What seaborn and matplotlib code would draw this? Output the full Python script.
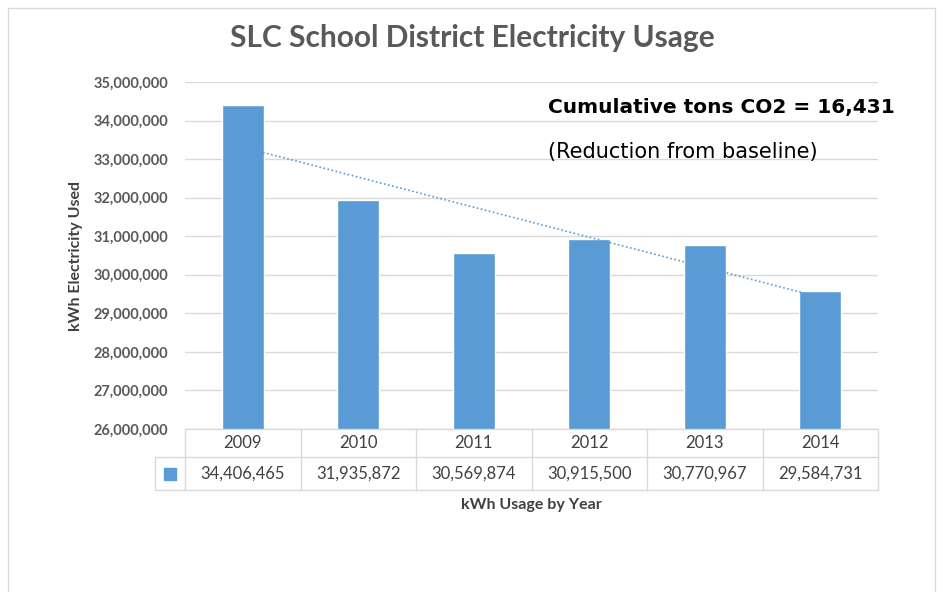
import numpy as np
import pandas as pd
import seaborn as sns
from matplotlib import pyplot as plt
from matplotlib.lines import Line2D
from matplotlib.ticker import FuncFormatter, MultipleLocator

# data
years = ["2009", "2010", "2011", "2012", "2013", "2014"]
kwh = [34406465, 31935872, 30569874, 30915500, 30770967, 29584731]
note_main = "Cumulative tons CO2 = 16,431"
note_sub = "(Reduction from baseline)"

BAR = "#5B9BD5"
GRID = "#D9D9D9"
TXT = "#595959"

sns.set_theme(style="white")
plt.rcParams["font.family"] = ["Lato", "DejaVu Sans"]

df = pd.DataFrame({"year": years, "kwh": kwh})

fig = plt.figure(figsize=(9.45, 5.92), dpi=100)
ax = fig.add_axes([0.1958, 0.2753, 0.7333, 0.5862])

sns.barplot(data=df, x="year", y="kwh", color=BAR, width=0.36,
            saturation=1, ax=ax, zorder=2)

# linear trendline like Excel
xs = np.arange(len(kwh))
slope, icpt = np.polyfit(xs, kwh, 1)
ax.plot(xs, slope * xs + icpt, ls=(0, (1, 1.5)), color=BAR, lw=1.2, zorder=3)

ax.set_ylim(26_000_000, 35_000_000)
ax.set_xlim(-0.5, len(years) - 0.5)
ax.yaxis.set_major_locator(MultipleLocator(1_000_000))
ax.yaxis.set_major_formatter(FuncFormatter(lambda v, p: f"{int(v):,}"))
ax.grid(axis="y", color=GRID, lw=1, zorder=0)
for s in ax.spines.values():
    s.set_visible(False)
ax.tick_params(axis="y", length=0, pad=12, labelsize=10.5, labelcolor=TXT)
for lab in ax.get_yticklabels():
    lab.set_fontweight("bold")
ax.set_xticks([])
ax.set_xlabel("")
ax.set_ylabel("kWh Electricity Used", fontsize=11.5, fontweight="bold",
              color="#404040", labelpad=8)

# data table under the axis
tr = ax.transAxes
ncol = len(years)
h1, h2 = -0.0807, -0.176
key_left = -0.0433
for i in range(ncol + 1):
    xf = i / ncol
    ax.add_line(Line2D([xf, xf], [0, h2], transform=tr, color=GRID, lw=1, clip_on=False))
ax.add_line(Line2D([key_left, key_left], [h1, h2], transform=tr, color=GRID, lw=1, clip_on=False))
ax.add_line(Line2D([0, 1], [0, 0], transform=tr, color=GRID, lw=1, clip_on=False))
ax.add_line(Line2D([key_left, 1], [h1, h1], transform=tr, color=GRID, lw=1, clip_on=False))
ax.add_line(Line2D([key_left, 1], [h2, h2], transform=tr, color=GRID, lw=1, clip_on=False))
for i, (yr, v) in enumerate(zip(years, kwh)):
    xc = (i + 0.5) / ncol
    ax.text(xc, h1 / 2, yr, transform=tr, ha="center", va="center",
            fontsize=12, color="#404040")
    ax.text(xc, (h1 + h2) / 2, f"{v:,}", transform=tr, ha="center", va="center",
            fontsize=12, color="#404040")
ax.plot([key_left / 2], [(h1 + h2) / 2], marker="s", ms=8, color=BAR,
        transform=tr, clip_on=False)

fig.text(0.5619, 0.147, "kWh Usage by Year", ha="center", va="center",
         fontsize=11.5, fontweight="bold", color="#404040")

fig.text(0.5, 0.936, "SLC School District Electricity Usage", ha="center",
         va="center", fontsize=21.5, fontweight="bold", color=TXT)

# annotation
ax.text(0.524, 34_330_000, note_main, transform=ax.get_yaxis_transform(),
        fontsize=14.5, fontweight="bold", color="black", va="center",
        family=["DejaVu Sans"])
ax.text(0.524, 33_180_000, note_sub, transform=ax.get_yaxis_transform(),
        fontsize=15, color="black", va="center", family=["DejaVu Sans"])

# outer frame of the pasted chart
for xs_, ys_ in [([0.0085, 0.0085], [0.0, 0.986]), ([0.0085, 0.989], [0.986, 0.986]),
                 ([0.989, 0.989], [0.0, 0.986])]:
    fig.add_artist(Line2D(xs_, ys_, transform=fig.transFigure, color=GRID, lw=1))

fig.savefig("out.png", dpi=100, facecolor="white")
